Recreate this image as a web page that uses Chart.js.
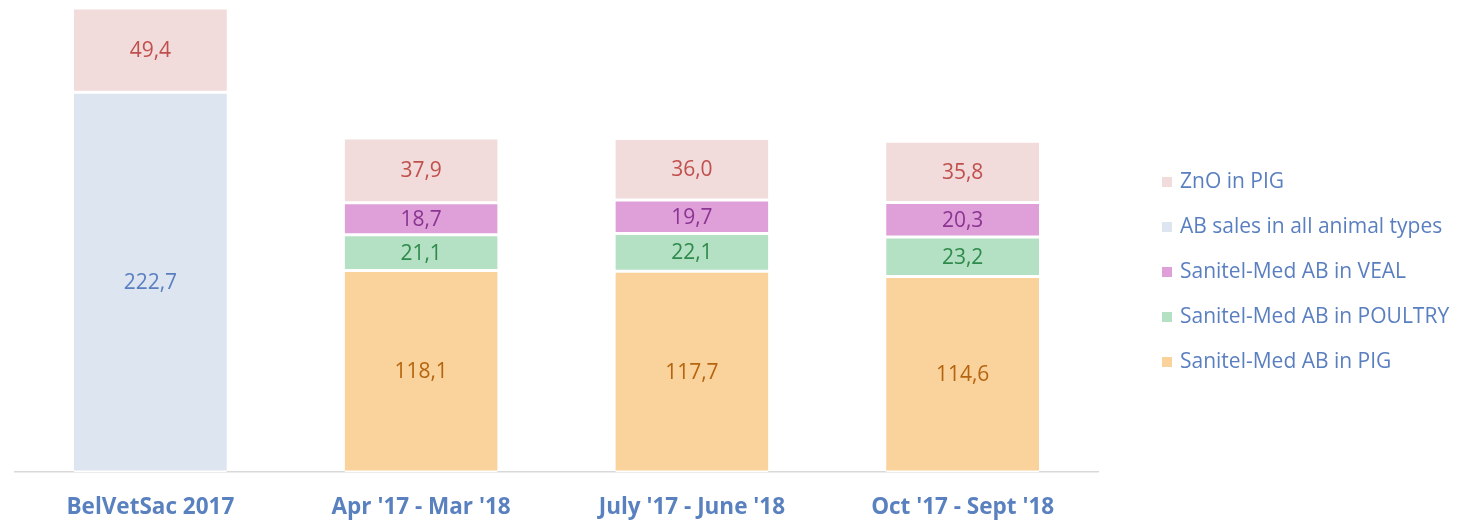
<!DOCTYPE html>
<html>
<head>
<meta charset="utf-8">
<script src="https://cdn.jsdelivr.net/npm/chart.js@4/dist/chart.umd.min.js"></script>
<style>
  body { margin: 0; background: #fff; }
  #wrap { position: relative; width: 1458px; height: 522px; }
  #legend { position: absolute; left: 1162px; top: 166px; font-family: "Open Sans", sans-serif; font-size: 21px; color: #5a7fc0; }
  #legend div { height: 45px; line-height: 28px; white-space: nowrap; }
  #legend span { display: inline-block; width: 10px; height: 10px; margin-right: 8px; vertical-align: 1px; }
</style>
</head>
<body>
<div id="wrap">
  <canvas id="chart" width="1458" height="522"></canvas>
  <div id="legend"></div>
</div>
<script>
const periods = ["BelVetSac 2017", "Apr '17 - Mar '18", "July '17 - June '18", "Oct '17 - Sept '18"];

const pig = [null, 118.1, 117.7, 114.6];
const poultry = [null, 21.1, 22.1, 23.2];
const veal = [null, 18.7, 19.7, 20.3];
const abSales = [222.7, null, null, null];
const zno = [49.4, 37.9, 36.0, 35.8];

const seriesNames = ["Sanitel-Med AB in PIG", "Sanitel-Med AB in POULTRY", "Sanitel-Med AB in VEAL", "AB sales in all animal types", "ZnO in PIG"];
const fills = ["#fad29c", "#b4e0c3", "#df9fd9", "#dde5f0", "#f1dbdb"];
const labelColors = ["#b5650f", "#2f8a4c", "#8a3592", "#5a7fc0", "#c0504d"];

const totals = periods.map((p, i) => [pig, poultry, veal, abSales, zno].reduce((s, arr) => s + (arr[i] || 0), 0));

const valueLabels = {
  id: "valueLabels",
  afterDatasetsDraw(chart) {
    const ctx = chart.ctx;
    ctx.save();
    ctx.font = "21px 'Open Sans', sans-serif";
    ctx.textAlign = "center";
    ctx.textBaseline = "middle";
    chart.data.datasets.forEach((ds, di) => {
      chart.getDatasetMeta(di).data.forEach((bar, i) => {
        const v = ds.data[i];
        if (v == null) return;
        const mid = (bar.y + bar.base) / 2;
        ctx.fillStyle = labelColors[di];
        ctx.fillText(v.toFixed(1).replace(".", ","), bar.x, mid + 1);
      });
    });
    ctx.restore();
  }
};

const datasets = [pig, poultry, veal, abSales, zno].map((arr, i) => ({
  label: seriesNames[i],
  data: arr,
  backgroundColor: fills[i],
  borderColor: "#ffffff",
  borderWidth: { top: 1.5, bottom: 1.5, left: 0, right: 0 },
  borderSkipped: false,
  barPercentage: 0.565,
  categoryPercentage: 1
}));

new Chart(document.getElementById("chart"), {
  type: "bar",
  data: { labels: periods, datasets: datasets },
  options: {
    responsive: false,
    animation: false,
    layout: { padding: { left: 15, right: 360, top: 8, bottom: 0 } },
    plugins: { legend: { display: false }, tooltip: { enabled: false } },
    scales: {
      x: {
        stacked: true,
        grid: { display: false, drawTicks: false },
        border: { color: "#d9d9d9", width: 1.5 },
        ticks: { color: "#5a81bf", font: { family: "'Open Sans', sans-serif", size: 22.5, weight: "bold", lineHeight: 1.1 }, padding: 23 },
        afterFit(scale) { scale.height = 50; }
      },
      y: {
        stacked: true,
        display: false,
        min: 0,
        max: Math.max(...totals)
      }
    }
  },
  plugins: [valueLabels]
});

const legend = document.getElementById("legend");
for (let i = seriesNames.length - 1; i >= 0; i--) {
  const row = document.createElement("div");
  row.innerHTML = `<span style="background:${fills[i]}"></span>${seriesNames[i]}`;
  legend.appendChild(row);
}
</script>
</body>
</html>
